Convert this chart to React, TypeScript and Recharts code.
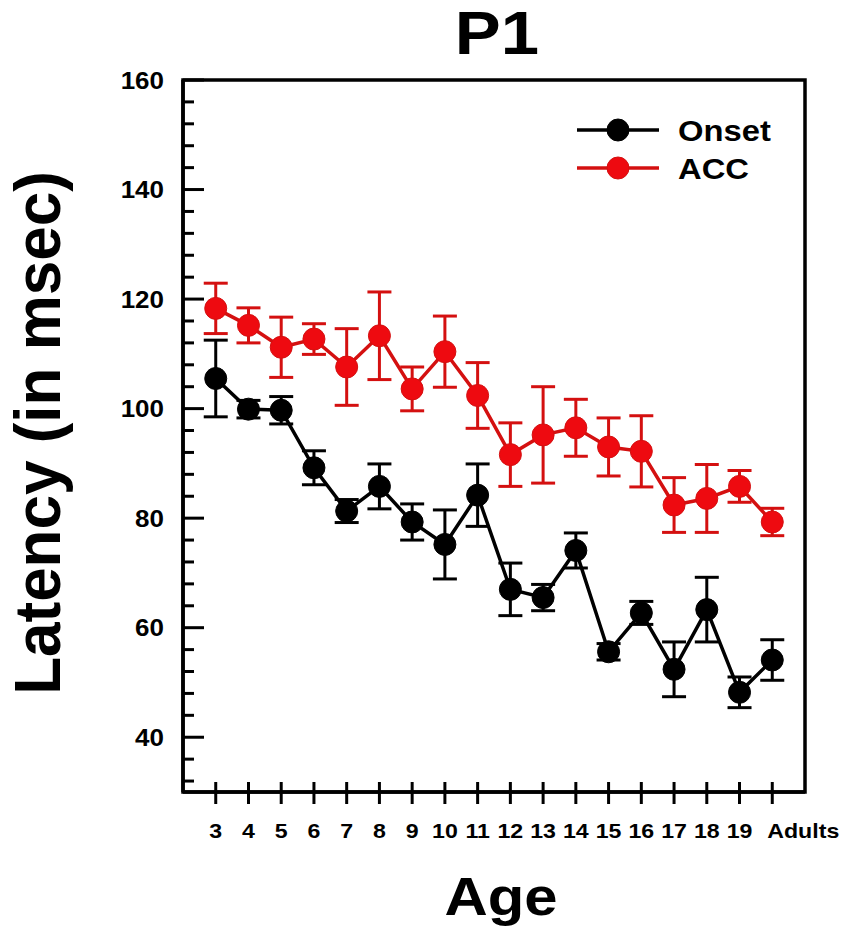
import React from 'react';
import { LineChart, Line, XAxis, YAxis, ErrorBar, ReferenceArea, Legend } from 'recharts';

// ---- data ----
const AGE_LABELS = ['3', '4', '5', '6', '7', '8', '9', '10', '11', '12', '13', '14', '15', '16', '17', '18', '19', 'Adults'];
const ONSET_MEAN = [105.5, 99.9, 99.7, 89.2, 81.3, 85.8, 79.3, 75.2, 84.2, 67.0, 65.5, 74.1, 55.6, 62.7, 52.4, 63.3, 48.2, 54.1];
const ONSET_ERR = [7.0, 1.6, 2.5, 3.1, 2.1, 4.1, 3.3, 6.3, 5.7, 4.8, 2.4, 3.2, 1.5, 2.1, 5.0, 5.9, 2.8, 3.7];
const ACC_MEAN = [118.3, 115.2, 111.2, 112.7, 107.6, 113.3, 103.6, 110.4, 102.4, 91.6, 95.2, 96.5, 93.0, 92.2, 82.4, 83.6, 85.8, 79.3];
const ACC_ERR = [4.6, 3.2, 5.5, 2.8, 7.0, 8.0, 4.0, 6.5, 6.0, 5.8, 8.8, 5.2, 5.3, 6.5, 5.0, 6.2, 2.9, 2.5];
const SERIES_NAMES = ['Onset', 'ACC'];
const Y_TICKS = [32, 36, 40, 44, 48, 52, 56, 60, 64, 68, 72, 76, 80, 84, 88, 92, 96, 100, 104, 108, 112, 116, 120, 124, 128, 132, 136, 140, 144, 148, 152, 156, 160];
const Y_MAJOR = [40, 60, 80, 100, 120, 140, 160];
const Y_DOMAIN = [30, 160];
const TITLE = 'P1';
const X_TITLE = 'Age';
const Y_TITLE = 'Latency (in msec)';

const data = AGE_LABELS.map((label, i) => ({
  x: i,
  label,
  onset: ONSET_MEAN[i],
  onsetErr: ONSET_ERR[i],
  acc: ACC_MEAN[i],
  accErr: ACC_ERR[i],
}));
const X_TICKS = AGE_LABELS.map((_, i) => i);

// ---- styles ----
const FONT = "'Liberation Sans', Arial, Helvetica, sans-serif";
const BLACK = '#000000';
const RED_LINE = '#d41010';
const RED_DOT = '#ee0a10';
const STRETCH = 1.13;

const XTick = (props: any) => {
  const { x, y, payload } = props;
  const label = AGE_LABELS[payload.value] ?? '';
  const isLast = payload.value === AGE_LABELS.length - 1;
  return (
    <g>
      <line x1={x} x2={x} y1={y - 10} y2={y + 12} stroke={BLACK} strokeWidth={3} />
      <text
        transform={`translate(${isLast ? x - 5 : x},${y + 45.5}) scale(${STRETCH},1)`}
        textAnchor={isLast ? 'start' : 'middle'}
        fontSize={20.5}
        fontWeight="bold"
        fontFamily={FONT}
        fill={BLACK}
      >
        {label}
      </text>
    </g>
  );
};

const YTick = (props: any) => {
  const { x, y, payload } = props;
  const major = Y_MAJOR.includes(payload.value);
  return (
    <g>
      <line x1={x} x2={x + (major ? 21 : 11)} y1={y} y2={y} stroke={BLACK} strokeWidth={3} />
      {major && (
        <text
          transform={`translate(${x - 19},${y + 8.5}) scale(${STRETCH},1)`}
          textAnchor="end"
          fontSize={23}
          fontWeight="bold"
          fontFamily={FONT}
          fill={BLACK}
        >
          {payload.value}
        </text>
      )}
    </g>
  );
};

const YTitle = (props: any) => {
  const vb = props.viewBox || {};
  const cy = (vb.y ?? 80) + (vb.height ?? 712) / 2;
  return (
    <text
      transform={`translate(60,${cy - 3}) rotate(-90) scale(1,1.04)`}
      textAnchor="middle"
      fontSize={62}
      fontWeight="bold"
      fontFamily={FONT}
      fill={BLACK}
    >
      {Y_TITLE}
    </text>
  );
};

const XTitle = (props: any) => {
  const vb = props.viewBox || {};
  const cx = (vb.x ?? 183) + (vb.width ?? 622) / 2;
  return (
    <text
      transform={`translate(${cx + 7},915) scale(${STRETCH},1)`}
      textAnchor="middle"
      fontSize={53}
      fontWeight="bold"
      fontFamily={FONT}
      fill={BLACK}
    >
      {X_TITLE}
    </text>
  );
};

const PlotTitle = (props: any) => {
  const vb = props.viewBox || {};
  const cx = (vb.x ?? 183) + (vb.width ?? 622) / 2;
  return (
    <text
      transform={`translate(${cx + 3},54) scale(${STRETCH},1)`}
      textAnchor="middle"
      fontSize={61}
      fontWeight="bold"
      fontFamily={FONT}
      fill={BLACK}
    >
      {TITLE}
    </text>
  );
};

const LegendContent = () => {
  const colors = [[BLACK, BLACK], [RED_LINE, RED_DOT]];
  return (
    <svg width={260} height={90} style={{ display: 'block', overflow: 'visible' }}>
      {SERIES_NAMES.map((name, i) => {
        const cy = 25 + i * 38;
        return (
          <g key={name}>
            <line x1={7} x2={89} y1={cy} y2={cy} stroke={colors[i][0]} strokeWidth={3.5} />
            <circle cx={48} cy={cy} r={11} fill={colors[i][1]} stroke={colors[i][0]} strokeWidth={1} />
            <text
              transform={`translate(108,${cy + 10.5}) scale(${STRETCH},1)`}
              fontSize={29}
              fontWeight="bold"
              fontFamily={FONT}
              fill={BLACK}
            >
              {name}
            </text>
          </g>
        );
      })}
    </svg>
  );
};

export default function App() {
  return (
    <div style={{ position: 'absolute', left: 0, top: 0, width: 851, height: 943, background: '#fff' }}>
      <LineChart
        width={851}
        height={943}
        data={data}
        margin={{ top: 80, right: 46, bottom: 91, left: 83 }}
      >
        <XAxis
          dataKey="x"
          type="number"
          domain={[-1, 18]}
          ticks={X_TICKS}
          interval={0}
          tickSize={0}
          tickMargin={0}
          tickLine={false}
          axisLine={{ stroke: BLACK, strokeWidth: 3.5 }}
          tick={<XTick />}
          height={60}
          label={{ content: <XTitle /> }}
        />
        <YAxis
          type="number"
          domain={Y_DOMAIN}
          ticks={Y_TICKS}
          interval={0}
          tickSize={0}
          tickMargin={0}
          tickLine={false}
          axisLine={{ stroke: BLACK, strokeWidth: 3.5 }}
          tick={<YTick />}
          width={100}
          allowDataOverflow
          label={{ content: <YTitle /> }}
        />
        <ReferenceArea
          x1={-1}
          x2={18}
          y1={Y_DOMAIN[0]}
          y2={Y_DOMAIN[1]}
          fill="none"
          fillOpacity={0}
          stroke={BLACK}
          strokeWidth={3.5}
          label={{ content: <PlotTitle /> }}
        />
        <Line
          dataKey="onset"
          name={SERIES_NAMES[0]}
          stroke={BLACK}
          strokeWidth={3.5}
          dot={{ r: 11, fill: BLACK, stroke: BLACK, strokeWidth: 1 }}
          activeDot={false}
          isAnimationActive={false}
        >
          <ErrorBar dataKey="onsetErr" width={12} strokeWidth={3} stroke={BLACK} direction="y" isAnimationActive={false} />
        </Line>
        <Line
          dataKey="acc"
          name={SERIES_NAMES[1]}
          stroke={RED_LINE}
          strokeWidth={3.5}
          dot={{ r: 11, fill: RED_DOT, stroke: RED_LINE, strokeWidth: 1 }}
          activeDot={false}
          isAnimationActive={false}
        >
          <ErrorBar dataKey="accErr" width={12} strokeWidth={3} stroke={RED_LINE} direction="y" isAnimationActive={false} />
        </Line>
        <Legend
          layout="vertical"
          align="center"
          verticalAlign="middle"
          content={<LegendContent />}
          wrapperStyle={{ position: 'absolute', left: 570, top: 105, width: 260, height: 90 }}
        />
      </LineChart>
    </div>
  );
}
